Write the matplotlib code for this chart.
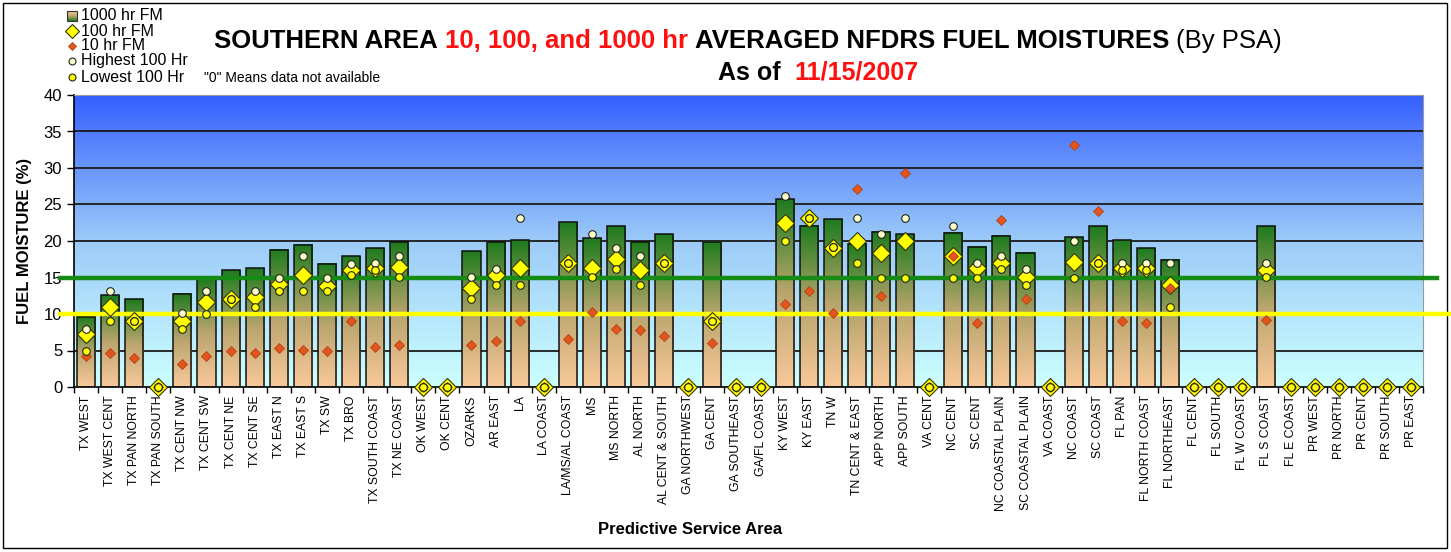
import matplotlib
matplotlib.use("Agg")
import matplotlib.pyplot as plt
import matplotlib.patches as patches
import numpy as np
from matplotlib.colors import LinearSegmentedColormap

plt.rcParams["font.family"] = ["Liberation Sans", "DejaVu Sans"]

# --- data ---
areas = ["TX WEST", "TX WEST CENT", "TX PAN NORTH", "TX PAN SOUTH", "TX CENT NW",
         "TX CENT SW", "TX CENT NE", "TX CENT SE", "TX EAST N", "TX EAST S", "TX SW",
         "TX BRO", "TX SOUTH COAST", "TX NE COAST", "OK WEST", "OK CENT", "OZARKS",
         "AR EAST", "LA", "LA COAST", "LA/MS/AL COAST", "MS", "MS NORTH", "AL NORTH",
         "AL CENT & SOUTH", "GA NORTHWEST", "GA CENT", "GA SOUTHEAST", "GA/FL COAST",
         "KY WEST", "KY EAST", "TN W", "TN CENT & EAST", "APP NORTH", "APP SOUTH",
         "VA CENT", "NC CENT", "SC CENT", "NC COASTAL PLAIN", "SC COASTAL PLAIN",
         "VA COAST", "NC COAST", "SC COAST", "FL PAN", "FL NORTH COAST", "FL NORTHEAST",
         "FL CENT", "FL SOUTH", "FL W COAST", "FL S COAST", "FL E COAST", "PR WEST",
         "PR NORTH", "PR CENT", "PR SOUTH", "PR EAST"]

fm1000 = [9.6, 12.6, 12.0, 0, 12.8, 14.8, 16.0, 16.3, 18.8, 19.5, 16.9, 17.9, 19.0, 19.8,
          0, 0, 18.6, 19.8, 20.1, 0, 22.6, 20.4, 22.0, 19.8, 20.9, 0, 19.9, 0, 0,
          25.7, 22.1, 23.0, 19.6, 21.3, 20.9, 0, 21.1, 19.2, 20.7, 18.4, 0, 20.5, 22.0,
          20.1, 19.0, 17.4, 0, 0, 0, 22.0, 0, 0, 0, 0, 0, 0]
fm100 = [7.2, 10.9, 9.0, 0, 9.1, 11.6, 12.0, 12.3, 14.1, 15.4, 13.8, 16.0, 16.3, 16.4,
         0, 0, 13.5, 15.4, 16.3, 0, 17.0, 16.3, 17.5, 16.0, 17.0, 0, 9.0, 0, 0,
         22.4, 23.1, 19.0, 20.0, 18.4, 20.0, 0, 17.9, 16.3, 17.0, 15.1, 0, 17.1, 17.0,
         16.3, 16.3, 14.0, 0, 0, 0, 16.0, 0, 0, 0, 0, 0, 0]
high100 = [7.9, 13.1, 9.0, 0, 10.1, 13.1, 12.0, 13.1, 15.0, 18.0, 15.0, 16.9, 17.0, 18.0,
           0, 0, 15.1, 16.1, 23.1, 0, 17.0, 21.0, 19.1, 18.0, 17.0, 0, 9.1, 0, 0,
           26.1, 23.1, 19.2, 23.1, 21.0, 23.1, 0, 22.1, 17.0, 18.0, 16.1, 0, 20.0, 17.0,
           17.0, 17.0, 17.0, 0, 0, 0, 17.0, 0, 0, 0, 0, 0, 0]
low100 = [4.9, 9.1, 9.0, 0, 7.9, 10.0, 12.0, 11.0, 13.1, 13.1, 13.1, 15.4, 16.0, 15.1,
          0, 0, 12.1, 14.0, 14.0, 0, 17.0, 15.1, 16.1, 14.0, 17.0, 0, 9.1, 0, 0,
          20.0, 23.1, 19.2, 17.0, 15.0, 15.0, 0, 15.0, 15.0, 16.1, 14.0, 0, 15.0, 17.0,
          16.0, 16.0, 11.0, 0, 0, 0, 15.1, 0, 0, 0, 0, 0, 0]
fm10 = [4.2, 4.7, 4.0, 0, 3.2, 4.2, 4.9, 4.7, 5.3, 5.1, 4.9, 9.1, 5.5, 5.7,
        0, 0, 5.8, 6.3, 9.1, 0, 6.6, 10.3, 7.9, 7.8, 7.0, 0, 6.0, 0, 0,
        11.4, 13.1, 10.1, 27.1, 12.5, 29.3, 0, 17.9, 8.7, 22.9, 12.1, 0, 33.1, 24.1,
        9.1, 8.7, 13.6, 0, 0, 0, 9.2, 0, 0, 0, 0, 0, 0]

GREEN_LINE = 15
YELLOW_LINE = 10

W, H = 1451, 552
fig = plt.figure(figsize=(W / 100, H / 100), dpi=100)
fig.patch.set_facecolor("white")

# overlay in pixel coords for title / legend / border
ov = fig.add_axes([0, 0, 1, 1], zorder=0)
ov.set_xlim(0, W)
ov.set_ylim(H, 0)
ov.axis("off")
ov.add_patch(patches.Rectangle((3, 3), W - 7, H - 7, fill=False, edgecolor="black", lw=1))

ax = fig.add_axes([74 / W, 1 - 387 / H, (1423 - 74) / W, (387 - 95) / H], zorder=1)
n = len(areas)
x = np.arange(n)
ax.set_xlim(-0.5, n - 0.5)
ax.set_ylim(0, 40)

# background gradient
bg = LinearSegmentedColormap.from_list("bg", ["#CCFFFF", "#9CCBF8", "#3660FF"])
grad = np.linspace(0, 1, 256).reshape(-1, 1)
ax.imshow(grad, cmap=bg, aspect="auto", extent=[-0.5, n - 0.5, 0, 40],
          origin="lower", zorder=0)

for yv in range(5, 40, 5):
    ax.axhline(yv, color="#1a1a1a", lw=1.3, zorder=1)

# bars with vertical gradient
barcm = LinearSegmentedColormap.from_list("bar", ["#F9C99A", "#B9A56E", "#1E7B1E"])
bw = 0.75
for xi, h in zip(x, fm1000):
    if h <= 0:
        continue
    ax.imshow(grad, cmap=barcm, aspect="auto", origin="lower",
              extent=[xi - bw / 2, xi + bw / 2, 0, h], zorder=2)
ax.bar(x, fm1000, width=bw, fill=False, edgecolor="#111111", lw=1.1, zorder=3)
ax.set_xlim(-0.5, n - 0.5)
ax.set_ylim(0, 40)

# reference lines (run a bit past the plot edges)
ax.axhline(GREEN_LINE, xmin=-0.0104, xmax=1.0104, color="#158A15", lw=3.2,
           clip_on=False, zorder=4)
ax.axhline(YELLOW_LINE, xmin=-0.0104, xmax=1.03, color="#FFFF00", lw=3.2,
           clip_on=False, zorder=4)

# markers: 100hr, then 10hr, then the high/low circles on top
ax.plot(x, fm100, ls="none", marker="D", ms=9, mfc="#FFFF00", mec="#333300",
        mew=0.8, zorder=5, clip_on=False)
ax.plot(x, fm10, ls="none", marker="D", ms=5, mfc="#E0561C", mec="#B84012",
        mew=0.6, zorder=6, clip_on=False)
ax.plot(x, high100, ls="none", marker="o", ms=5.5, mfc="#FFFFC8", mec="#222222",
        mew=0.8, zorder=7, clip_on=False)
ax.plot(x, low100, ls="none", marker="o", ms=5.5, mfc="#FFFF00", mec="#222222",
        mew=0.8, zorder=7, clip_on=False)

# axes styling
ax.set_yticks(range(0, 41, 5))
ax.tick_params(axis="y", labelsize=12, length=5, direction="out", width=1)
ax.set_xticks(x)
ax.set_xticklabels(areas, rotation=90, fontsize=8.8)
ax.tick_params(axis="x", length=0, pad=6)
ax.set_xticks(np.arange(-0.5, n, 1), minor=True)
ax.tick_params(axis="x", which="minor", length=4, width=1, direction="out")
for s in ["top", "right"]:
    ax.spines[s].set_color("#999999")
for s in ["left", "bottom"]:
    ax.spines[s].set_color("black")
    ax.spines[s].set_linewidth(1.2)
ax.set_ylabel("FUEL MOISTURE (%)", fontsize=12, fontweight="bold", labelpad=8)

ov.text(690, 530, "Predictive Service Area", fontsize=12, fontweight="bold",
        ha="center", va="center")

# multi-colour title lines
renderer = fig.canvas.get_renderer()


def colored_line(pieces, xc, y, size):
    gap = 0.278 * size * 100 / 72
    objs = []
    total = 0
    for txt, col, wt in pieces:
        t = ov.text(0, y, txt, color=col, fontsize=size, fontweight=wt,
                    ha="left", va="baseline")
        w = t.get_window_extent(renderer).width
        objs.append((t, w))
        total += w
    total += gap * (len(pieces) - 1)
    xs = xc - total / 2
    for t, w in objs:
        t.set_x(xs)
        xs += w + gap


colored_line([("SOUTHERN AREA", "black", "bold"),
              ("10, 100, and 1000 hr", "#FF1010", "bold"),
              ("AVERAGED NFDRS FUEL MOISTURES", "black", "bold"),
              ("(By PSA)", "black", "normal")], 748, 48, 18.5)
colored_line([("As of ", "black", "bold"),
              ("11/15/2007", "#FF1010", "bold")], 818, 80, 18)

# legend (drawn by hand, top left)
leg_y = [16, 31, 46, 61, 77]
lx = 72
ov.imshow(grad, cmap=barcm, origin="upper", aspect="auto",
          extent=[lx - 5, lx + 5, leg_y[0] + 5, leg_y[0] - 5], zorder=2)
ov.add_patch(patches.Rectangle((lx - 5, leg_y[0] - 5), 10, 10, fill=False,
                               edgecolor="#333333", lw=0.8, zorder=3))
ov.set_xlim(0, W)
ov.set_ylim(H, 0)
ov.plot(lx, leg_y[1], marker="D", ms=7, mfc="#FFFF00", mec="#333300", mew=0.8)
ov.plot(lx, leg_y[2], marker="D", ms=4.5, mfc="#E0561C", mec="#B84012", mew=0.6)
ov.plot(lx, leg_y[3], marker="o", ms=5, mfc="#FFFFC8", mec="#222222", mew=0.8)
ov.plot(lx, leg_y[4], marker="o", ms=5, mfc="#FFFF00", mec="#222222", mew=0.8)
labels = ["1000 hr FM", "100 hr FM", "10 hr FM", "Highest 100 Hr", "Lowest 100 Hr"]
for yy, lab in zip(leg_y, labels):
    ov.text(lx + 9, yy, lab, fontsize=11.5, va="center", ha="left")
ov.text(204, 78, "\"0\" Means data not available", fontsize=10, va="center", ha="left")

fig.savefig("out.png", dpi=100)
